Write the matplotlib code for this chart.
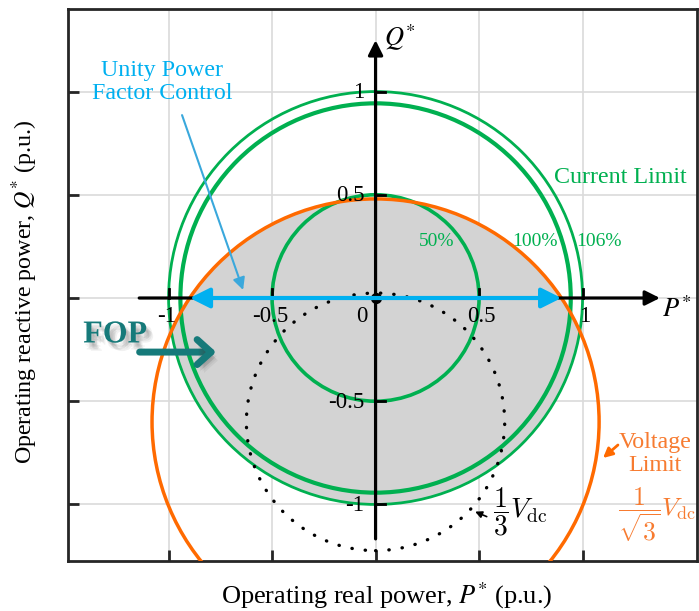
import numpy as np
import matplotlib
matplotlib.use('Agg')
import matplotlib.pyplot as plt
from matplotlib.patches import Circle
import matplotlib.patheffects as pe

# current limit circles (p.u.)
current_radii = [0.5, 0.943, 1.0]
current_labels = ['50%', '100%', '106%']
current_label_x = [0.297, 0.771, 1.08]
current_widths = [2.6, 3.0, 2.0]

# voltage limit circle (1/sqrt(3) Vdc), centred below the origin
vlimit_centre_q = -0.6
vlimit_radius = 1.08
# 1/3 Vdc circle, same centre
vdc3_radius = 0.624

tick_values = [-1, -0.5, 0, 0.5, 1]
tick_texts = ['-1', '-0.5', '0', '0.5', '1']

GREEN = '#00B050'
ORANGE = '#FF6A00'
ORANGE_TXT = '#F77B30'
BLUE = '#00B0F0'
TEAL = '#167A7A'

plt.rcParams['font.family'] = ['Liberation Serif', 'DejaVu Serif']
plt.rcParams['mathtext.fontset'] = 'stix'

fig = plt.figure(figsize=(6.99, 6.11), dpi=100)
ax = fig.add_axes([68/699, 50/611, 629/699, 552/611])
ax.set_xlim(-1.486, 1.553)
ax.set_ylim(-1.274, 1.40)

# frame, grid and inward ticks on the frame
for s in ax.spines.values():
    s.set_color('#262626')
    s.set_linewidth(2)
ax.set_xticks(tick_values)
ax.set_yticks(tick_values)
ax.tick_params(direction='in', length=8, width=2, color='#262626',
               labelbottom=False, labelleft=False)
ax.grid(color='#dadada', lw=1.2)
ax.set_axisbelow(True)

# feasible operating region: inside voltage limit and 106% current limit
region = Circle((0, vlimit_centre_q), vlimit_radius, fc='#d3d3d3', ec='none', zorder=1)
ax.add_patch(region)
region.set_clip_path(Circle((0, 0), current_radii[-1], transform=ax.transData))

# P/Q axes through the origin
ax.annotate('', xy=(1.374, 0), xytext=(-1.142, 0),
            arrowprops=dict(arrowstyle='-|>', lw=2.3, color='k', mutation_scale=22,
                            shrinkA=0, shrinkB=0), zorder=4)
ax.annotate('', xy=(0, 1.249), xytext=(0, -1.167),
            arrowprops=dict(arrowstyle='-|>', lw=2.3, color='k', mutation_scale=22,
                            shrinkA=0, shrinkB=0), zorder=4)
for t in tick_values:
    if t != 0:
        ax.plot([t, t], [0, 0.045], color='k', lw=2, zorder=4)
        ax.plot([0, 0.045], [t, t], color='k', lw=2, zorder=4)

fs_tick = 16.5
for t, s in zip(tick_values, tick_texts):
    xt = -0.065 if t == 0 else t + (0.012 if t > 0 else -0.008)
    ax.text(xt, -0.088, s, ha='center', va='center', fontsize=fs_tick, zorder=6)
    if t != 0:
        ax.text(-0.055, t - 0.005, s, ha='right', va='center', fontsize=fs_tick, zorder=6)
ax.text(0.04, 1.26, r'$Q^{*}$', ha='left', va='center', fontsize=19, zorder=6)
ax.text(1.385, -0.055, r'$P^{*}$', ha='left', va='center', fontsize=19, zorder=6)

# current limit circles
for r, lw in zip(current_radii, current_widths):
    ax.add_patch(Circle((0, 0), r, fill=False, ec=GREEN, lw=lw, zorder=2))
for x, s in zip(current_label_x, current_labels):
    ax.text(x, 0.276, s, color=GREEN, ha='center', va='center', fontsize=14, zorder=6)
ax.text(1.181, 0.586, 'Current Limit', color=GREEN, ha='center', va='center',
        fontsize=17.3, zorder=6)

# voltage limit and 1/3 Vdc circles
ax.add_patch(Circle((0, vlimit_centre_q), vlimit_radius, fill=False, ec=ORANGE,
                    lw=2.5, zorder=3))
dots = Circle((0, vlimit_centre_q), vdc3_radius, fill=False, ec='k', lw=2.4,
              ls=(0, (0.1, 3.9)), zorder=3)
dots.set_capstyle('round')
ax.add_patch(dots)
ax.plot([0], [0], 'o', color='k', ms=7, zorder=5)

ax.text(1.35, -0.755, 'Voltage\nLimit', color=ORANGE_TXT, ha='center', va='center',
        fontsize=17.3, linespacing=1.1, zorder=6)
ax.text(1.36, -1.05, r'$\dfrac{1}{\sqrt{3}}V_{\rm dc}$', color=ORANGE_TXT, ha='center',
        va='center', fontsize=18.5, math_fontfamily='cm', zorder=6)
ax.annotate('', xy=(1.099, -0.775), xytext=(1.171, -0.712),
            arrowprops=dict(arrowstyle='-|>', lw=2, color=ORANGE, mutation_scale=14,
                            shrinkA=0, shrinkB=0), zorder=6)

ax.text(0.70, -1.036, r'$\dfrac{1}{3}V_{\rm dc}$', color='k', ha='center', va='center',
        fontsize=20, math_fontfamily='cm', zorder=6)
ax.annotate('', xy=(0.481, -1.035), xytext=(0.537, -1.059),
            arrowprops=dict(arrowstyle='-|>', lw=1.2, color='k', mutation_scale=10,
                            shrinkA=0, shrinkB=0), zorder=6)

# unity power factor operation along the P axis
p_edge = np.sqrt(vlimit_radius**2 - vlimit_centre_q**2)
ax.annotate('', xy=(p_edge, 0), xytext=(-p_edge, 0),
            arrowprops=dict(arrowstyle='<|-|>', lw=3, color=BLUE, mutation_scale=30,
                            shrinkA=0, shrinkB=0), zorder=5)
ax.text(-1.031, 1.046, 'Unity Power\nFactor Control', color=BLUE, ha='center',
        va='center', fontsize=17.3, linespacing=1.1, zorder=6)
ax.annotate('', xy=(-0.64, 0.039), xytext=(-0.935, 0.886),
            arrowprops=dict(arrowstyle='-|>', lw=1.5, color='#3AA8DC', mutation_scale=18,
                            shrinkA=0, shrinkB=0), zorder=6)

# FOP marker with a soft drop shadow
shadow = [pe.SimplePatchShadow(offset=(dx, -dy), shadow_rgbFace='#444444', alpha=0.07)
          for dx, dy in [(1, 2), (2, 3), (3, 4), (4, 5), (2, 5), (4, 3), (5, 6)]]
shadow.append(pe.Normal())
ax.text(-1.258, -0.179, 'FOP', color=TEAL, fontweight='bold', ha='center', va='center',
        fontsize=23, zorder=6, path_effects=shadow)
ax.annotate('', xy=(-0.77, -0.262), xytext=(-1.14, -0.262),
            arrowprops=dict(arrowstyle='->,head_length=0.5,head_width=0.45', lw=5,
                            color=TEAL, mutation_scale=20, shrinkA=0, shrinkB=0,
                            path_effects=shadow), zorder=6)

ax.set_xlabel('Operating real power, $P^{*}$ (p.u.)', fontsize=19)
ax.set_ylabel('Operating reactive power, $Q^{*}$ (p.u.)', fontsize=17.3)
ax.xaxis.set_label_coords(0.506, -0.035)
ax.yaxis.set_label_coords(-0.045, 0.487)

fig.savefig('out.png', dpi=100)
